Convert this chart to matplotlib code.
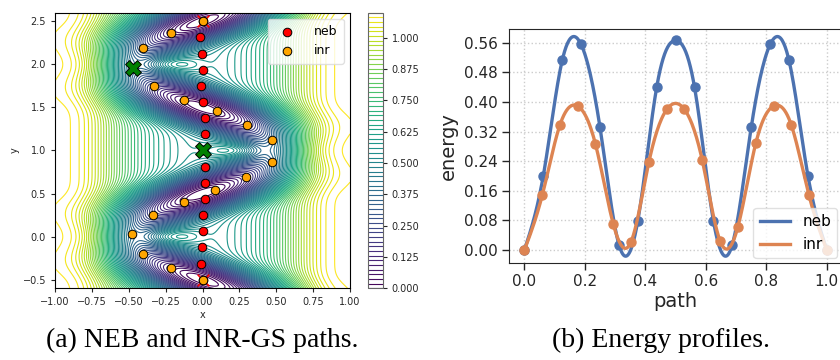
import numpy as np
import matplotlib
matplotlib.use("Agg")
import matplotlib.pyplot as plt

# ---- left panel data ----
neb_x = [0.0, -0.01, -0.002, 0.0, 0.0, 0.02, 0.014, 0.017, 0.0, 0.014, 0.017,
         0.0, -0.01, 0.0, -0.003, -0.017, 0.0]
neb_y = [-0.5, -0.3125, -0.125, 0.0625, 0.25, 0.4375, 0.625, 0.8125, 1.0,
         1.1875, 1.375, 1.5625, 1.75, 1.9375, 2.125, 2.3125, 2.5]
inr_x = [0.0, -0.214, -0.401, -0.476, -0.338, -0.128, 0.087, 0.297, 0.473,
         0.473, 0.299, 0.096, -0.128, -0.329, -0.469, -0.401, -0.214, 0.0]
inr_y = [-0.5, -0.365, -0.197, 0.031, 0.252, 0.400, 0.540, 0.687, 0.869,
         1.122, 1.300, 1.459, 1.591, 1.750, 1.956, 2.193, 2.364, 2.5]
saddle_x = [0.0, -0.469]
saddle_y = [1.0, 1.956]

# ---- right panel data ----
neb_s = [0.0, 0.0625, 0.125, 0.1875, 0.25, 0.3125, 0.375, 0.4375, 0.5,
         0.5625, 0.625, 0.6875, 0.75, 0.8125, 0.875, 0.9375, 1.0]
neb_e = [0.0, 0.201, 0.512, 0.555, 0.331, 0.015, 0.079, 0.44, 0.566, 0.44,
         0.079, 0.015, 0.331, 0.555, 0.512, 0.201, 0.0]
inr_s = [0.0, 0.059, 0.118, 0.176, 0.235, 0.294, 0.353, 0.412, 0.471, 0.529,
         0.588, 0.647, 0.706, 0.765, 0.824, 0.882, 0.941, 1.0]
inr_e = [0.0, 0.148, 0.339, 0.389, 0.286, 0.070, 0.023, 0.239, 0.380, 0.380,
         0.243, 0.025, 0.063, 0.288, 0.389, 0.339, 0.148, 0.0]

xticks_r = [0.0, 0.2, 0.4, 0.6, 0.8, 1.0]
yticks_r = [0.0, 0.08, 0.16, 0.24, 0.32, 0.40, 0.48, 0.56]
cbar_ticks = [0.0, 0.125, 0.25, 0.375, 0.5, 0.625, 0.75, 0.875, 1.0]


def potential(X, Y):
    # zigzag channel carved into a bowl with steep, flat-topped side walls
    s = np.pi * Y
    amp = 0.47
    xc = -amp * np.cos(s)
    slope = amp * np.pi * np.sin(s)
    dp = (X - xc) / np.sqrt(1 + slope ** 2)

    def bowl(x):
        return 1.11 - 0.56 * np.exp(-1.8 * x ** 2 - 5.0 * x ** 6)

    e_valley = 0.39 * np.cos(s) ** 2
    depth = bowl(xc) - e_valley
    V = bowl(X) - depth * np.exp(-dp ** 2 / (2 * 0.17 ** 2))
    # small bumps inside the bends
    yy = Y - np.round(Y)
    xb = -0.2 * np.cos(np.pi * np.round(Y))
    V = V + 0.1 * np.exp(-((X - xb) ** 2 / (2 * 0.12 ** 2) + yy ** 2 / (2 * 0.07 ** 2)))
    return V


def natural_spline(xk, yk, xs):
    xk = np.asarray(xk, float)
    yk = np.asarray(yk, float)
    n = len(xk)
    h = np.diff(xk)
    A = np.zeros((n, n))
    r = np.zeros(n)
    A[0, 0] = A[-1, -1] = 1
    for i in range(1, n - 1):
        A[i, i - 1] = h[i - 1]
        A[i, i] = 2 * (h[i - 1] + h[i])
        A[i, i + 1] = h[i]
        r[i] = 3 * ((yk[i + 1] - yk[i]) / h[i] - (yk[i] - yk[i - 1]) / h[i - 1])
    c = np.linalg.solve(A, r)
    b = np.diff(yk) / h - h * (2 * c[:-1] + c[1:]) / 3
    d = (c[1:] - c[:-1]) / (3 * h)
    idx = np.clip(np.searchsorted(xk, xs) - 1, 0, n - 2)
    t = xs - xk[idx]
    return yk[idx] + b[idx] * t + c[idx] * t ** 2 + d[idx] * t ** 3


fig = plt.figure(figsize=(8.4, 3.6), dpi=100)
dark = "0.15"

# ---------------- left: contour + paths ----------------
ax = fig.add_axes([0.0655, 0.1992, 0.3512, 0.7655])
cax = fig.add_axes([0.4385, 0.1992, 0.0171, 0.7655])

gx = np.linspace(-1, 1, 500)
gy = np.linspace(-0.6, 2.6, 700)
GX, GY = np.meshgrid(gx, gy)
Z = potential(GX, GY)
levels = np.linspace(0, 1.1, 60)
cs = ax.contour(GX, GY, Z, levels=levels, cmap="viridis", linewidths=0.8)

ax.scatter([neb_x[0], neb_x[-1]], [neb_y[0], neb_y[-1]], marker="x", s=70,
           color="red", linewidths=1.2, zorder=3)
ax.scatter(neb_x, neb_y, s=38, color="red", edgecolors="black",
           linewidths=0.7, zorder=4, label="neb")
ax.scatter(inr_x, inr_y, s=38, color="orange", edgecolors="black",
           linewidths=0.7, zorder=5, label="inr")
ax.scatter(saddle_x, saddle_y, s=130, marker="X", color="green",
           edgecolors="black", linewidths=0.7, zorder=6)

ax.set_xlim(-1, 1)
ax.set_ylim(-0.6, 2.6)
ax.set_xticks(np.arange(-1, 1.01, 0.25))
ax.set_yticks([-0.5, 0.0, 0.5, 1.0, 1.5, 2.0, 2.5])
ax.tick_params(labelsize=7, colors=dark, length=3)
ax.set_xlabel("x", fontsize=7, color=dark, labelpad=2)
ax.set_ylabel("y", fontsize=7, color=dark, labelpad=2)
ax.legend(loc="upper right", fontsize=9, framealpha=0.8, handletextpad=1.2,
          borderpad=0.5, edgecolor="0.85")

cb = fig.colorbar(cs, cax=cax)
cb.set_ticks(cbar_ticks)
cb.ax.set_yticklabels([f"{t:.3f}" for t in cbar_ticks])
cb.ax.tick_params(labelsize=7, colors=dark, length=3)
cb.outline.set_edgecolor("0.4")

# ---------------- right: energy profiles ----------------
bx = fig.add_axes([0.6063, 0.2703, 0.396, 0.6483])
blue = "#4c72b0"
orange = "#dd8452"
ss = np.linspace(0, 1, 400)
bx.plot(ss, natural_spline(neb_s, neb_e, ss), color=blue, lw=2.4, label="neb")
bx.plot(neb_s, neb_e, "o", color=blue, ms=6.5)
bx.plot(ss, natural_spline(inr_s, inr_e, ss), color=orange, lw=2.4, label="inr")
bx.plot(inr_s, inr_e, "o", color=orange, ms=6.5)

bx.set_xlim(-0.05, 1.05)
bx.set_ylim(-0.034, 0.596)
bx.set_xticks(xticks_r)
bx.set_yticks(yticks_r)
bx.set_xticklabels([f"{t:.1f}" for t in xticks_r])
bx.set_yticklabels([f"{t:.2f}" for t in yticks_r])
bx.grid(True, linestyle=":", color="0.8", lw=1)
bx.set_axisbelow(True)
for sp in bx.spines.values():
    sp.set_color(dark)
bx.tick_params(labelsize=11, colors=dark, length=5, width=1)
bx.set_xlabel("path", fontsize=14, color=dark, labelpad=2)
bx.set_ylabel("energy", fontsize=14, color=dark, labelpad=4)
bx.legend(loc="lower right", fontsize=11, framealpha=0.8, handlelength=2.0,
          borderaxespad=0.3, edgecolor="0.85")

# ---------------- captions ----------------
fig.text(202 / 840, 1 - 340 / 360, "(a) NEB and INR-GS paths.",
         family="Liberation Serif", fontsize=20, ha="center", va="center")
fig.text(661 / 840, 1 - 340 / 360, "(b) Energy profiles.",
         family="Liberation Serif", fontsize=20, ha="center", va="center")

fig.savefig("out.png", dpi=100)
